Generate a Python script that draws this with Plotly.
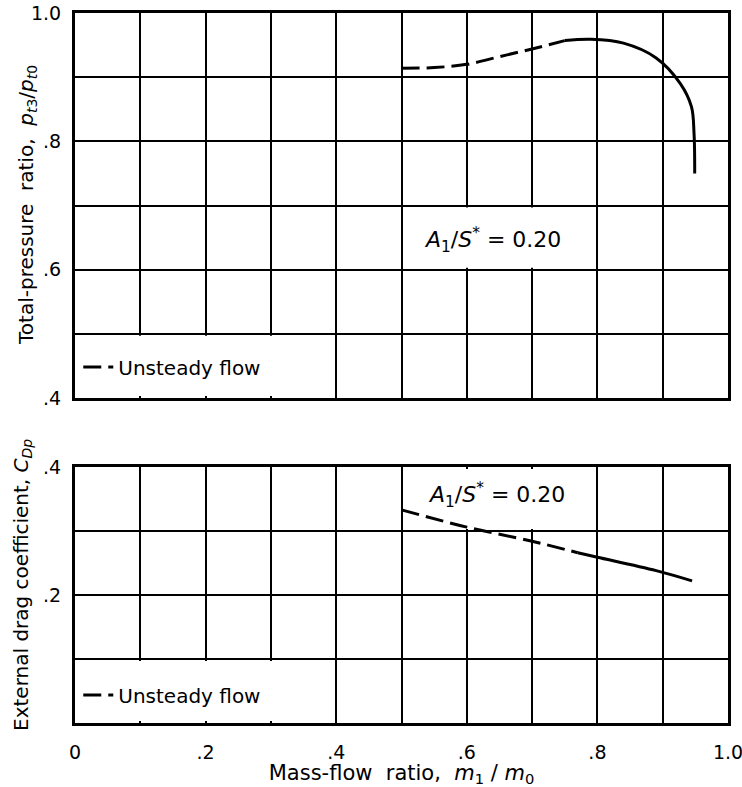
import plotly.graph_objects as go
from plotly.subplots import make_subplots

# ---- data ----
top_dash_x = [0.50, 0.55, 0.60, 0.65, 0.70, 0.75]
top_dash_y = [0.914, 0.915, 0.920, 0.932, 0.944, 0.957]
top_solid_x = [0.75, 0.79, 0.84, 0.89, 0.927, 0.944, 0.948, 0.949]
top_solid_y = [0.957, 0.959, 0.953, 0.930, 0.890, 0.854, 0.812, 0.750]

bot_dash_x = [0.50, 0.60, 0.70, 0.77]
bot_dash_y = [0.333, 0.306, 0.284, 0.266]
bot_solid_x = [0.77, 0.80, 0.89, 0.945]
bot_solid_y = [0.266, 0.259, 0.238, 0.222]

x_ticks = [0, 0.2, 0.4, 0.6, 0.8, 1.0]
x_ticktext = ["0", ".2", ".4", ".6", ".8", "1.0"]
top_y_ticks = [0.4, 0.6, 0.8, 1.0]
top_y_ticktext = [".4", ".6", ".8", "1.0"]
bot_y_ticks = [0.2, 0.4]
bot_y_ticktext = [".2", ".4"]
grid_step = 0.1

param_label = "<i>A</i><sub>1</sub>/<i>S</i><sup>*</sup> = 0.20"
legend_label = "Unsteady flow"
top_ytitle = "Total-pressure  ratio,  <i>p</i><sub><i>t</i>3</sub>/<i>p</i><sub><i>t</i>0</sub>"
bot_ytitle = "External drag coefficient, <i>C</i><sub><i>Dp</i></sub>"
xtitle = "Mass-flow  ratio,  <i>m</i><sub>1</sub> / <i>m</i><sub>0</sub>"

FONT = "DejaVu Sans"
DASH = "18px,7px"

fig = make_subplots(rows=2, cols=1, vertical_spacing=0.0971,
                    row_heights=[0.5423, 0.3606])
fig.update_yaxes(domain=[0.4577, 1.0], row=1, col=1)
fig.update_yaxes(domain=[0.0, 0.3606], row=2, col=1)

fig.add_trace(go.Scatter(x=top_dash_x, y=top_dash_y, mode="lines", name=legend_label,
                         line=dict(color="black", width=3, dash=DASH, shape="spline"),
                         legend="legend", showlegend=True), row=1, col=1)
fig.add_trace(go.Scatter(x=top_solid_x, y=top_solid_y, mode="lines",
                         line=dict(color="black", width=3, shape="spline"),
                         showlegend=False), row=1, col=1)
fig.add_trace(go.Scatter(x=bot_dash_x, y=bot_dash_y, mode="lines", name=legend_label,
                         line=dict(color="black", width=3, dash=DASH, shape="spline"),
                         legend="legend2", showlegend=True), row=2, col=1)
fig.add_trace(go.Scatter(x=bot_solid_x, y=bot_solid_y, mode="lines",
                         line=dict(color="black", width=3, shape="spline"),
                         showlegend=False), row=2, col=1)

axis_common = dict(showgrid=True, gridcolor="black", gridwidth=2,
                   minor=dict(dtick=grid_step, showgrid=True, gridcolor="black", gridwidth=2, ticks=""),
                   showline=True, linecolor="black", linewidth=3, mirror=True,
                   zeroline=False, ticks="", ticklabeloverflow="allow", automargin=False,
                   tickfont=dict(family=FONT, size=19, color="black"))

fig.update_xaxes(range=[0, 1], tickvals=x_ticks, ticktext=x_ticktext, **axis_common)
fig.update_xaxes(showticklabels=False, row=1, col=1)
fig.update_xaxes(ticklabelstandoff=10, row=2, col=1,
                 title=dict(text=xtitle, font=dict(family=FONT, size=21, color="black"), standoff=2))

fig.update_yaxes(range=[0.4, 1.0], tickvals=top_y_ticks, ticktext=top_y_ticktext,
                 ticklabelstandoff=7, row=1, col=1, **axis_common)
fig.update_yaxes(range=[0.0, 0.4], tickvals=bot_y_ticks, ticktext=bot_y_ticktext,
                 ticklabelstandoff=7, row=2, col=1, **axis_common)

# y-axis titles placed as rotated annotations for exact positioning
fig.add_annotation(x=-0.0735, y=0.7296, xref="paper", yref="paper", text=top_ytitle,
                   textangle=-90, showarrow=False, xanchor="center", yanchor="middle",
                   font=dict(family=FONT, size=20, color="black"))
fig.add_annotation(x=-0.0812, y=0.1944, xref="paper", yref="paper", text=bot_ytitle,
                   textangle=-90, showarrow=False, xanchor="center", yanchor="middle",
                   font=dict(family=FONT, size=20, color="black"))

# white boxes hiding the grid behind labels/legends
def blank(xref, yref, x0, x1, y0, y1):
    fig.add_shape(type="rect", xref=xref, yref=yref, x0=x0, x1=x1, y0=y0, y1=y1,
                  fillcolor="white", line=dict(width=0), layer="between")

e = 0.003
blank("x", "y", 0.5 + e, 0.8 - e, 0.6 + e, 0.7 - e)
blank("x", "y", 0.0 + e, 0.4 - e, 0.4 + e, 0.5 - e)
blank("x2", "y2", 0.5 + e, 0.8 - e, 0.3 + e, 0.4 - e)
blank("x2", "y2", 0.0 + e, 0.4 - e, 0.0 + e, 0.1 - e)

fig.add_annotation(x=0.64, y=0.646, xref="x", yref="y", text=param_label, showarrow=False,
                   font=dict(family=FONT, size=22, color="black"))
fig.add_annotation(x=0.646, y=0.356, xref="x2", yref="y2", text=param_label, showarrow=False,
                   font=dict(family=FONT, size=22, color="black"))

legend_style = dict(font=dict(family=FONT, size=20, color="black"), bgcolor="rgba(0,0,0,0)",
                    xanchor="left", yanchor="middle", itemwidth=30)
fig.update_layout(
    width=742, height=787,
    margin=dict(l=75, r=14, t=13, b=64, autoexpand=False),
    paper_bgcolor="white", plot_bgcolor="white",
    legend=dict(x=0.005, y=0.5014, **legend_style),
    legend2=dict(x=0.005, y=0.0394, **legend_style),
)

fig.write_html("out.html")
